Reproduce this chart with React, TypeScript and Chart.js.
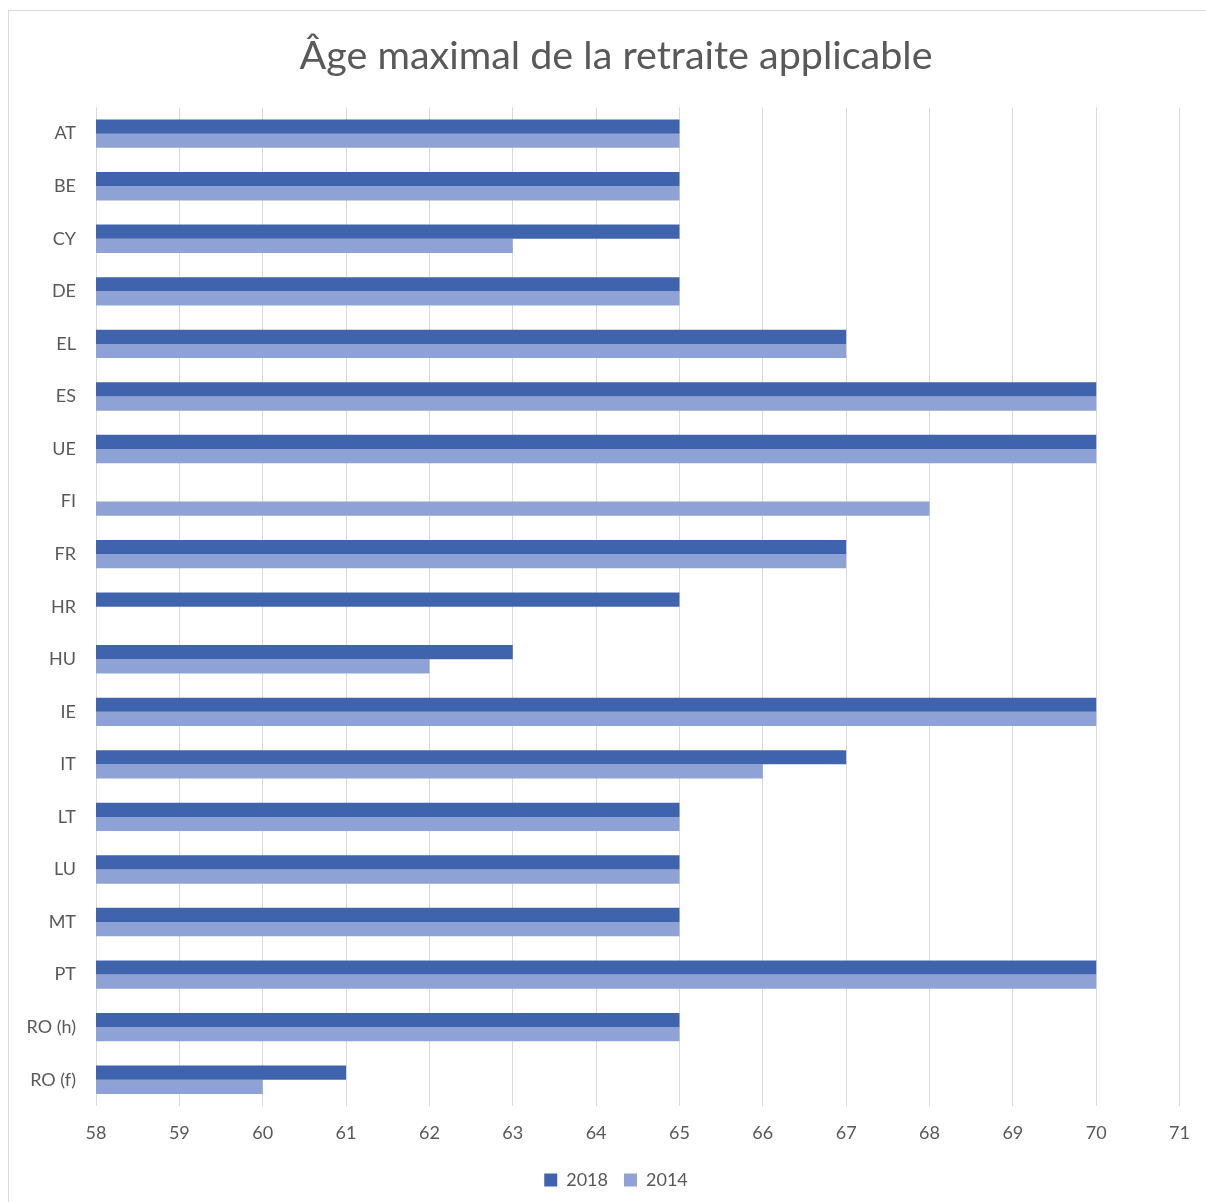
import React, { useEffect, useRef } from "react";
import { Chart, registerables } from "chart.js";

Chart.register(...registerables);

const categories = ["AT", "BE", "CY", "DE", "EL", "ES", "UE", "FI", "FR", "HR", "HU", "IE", "IT", "LT", "LU", "MT", "PT", "RO (h)", "RO (f)"];
const values2018: (number | null)[] = [65, 65, 65, 65, 67, 70, 70, null, 67, 65, 63, 70, 67, 65, 65, 65, 70, 65, 61];
const values2014: (number | null)[] = [65, 65, 63, 65, 67, 70, 70, 68, 67, null, 62, 70, 66, 65, 65, 65, 70, 65, 60];
const xTicks = [58, 59, 60, 61, 62, 63, 64, 65, 66, 67, 68, 69, 70, 71];
const seriesLabels = ["2018", "2014"];
const titleText = "Âge maximal de la retraite applicable";

const DARK = "#3F64AD";
const LIGHT = "#8FA2D5";
const TEXT = "#595959";
const GRID = "#D9D9D9";
const FONT = "Lato";

export default function App() {
  const ref = useRef<HTMLCanvasElement | null>(null);
  useEffect(() => {
    if (!ref.current) return;
    const chart = new Chart(ref.current, {
      type: "bar",
      data: {
        labels: categories,
        datasets: [
          { label: seriesLabels[0], data: values2018, backgroundColor: DARK, borderWidth: 0, categoryPercentage: 0.54, barPercentage: 1, yAxisID: "y" },
          { label: seriesLabels[1], data: values2014, backgroundColor: LIGHT, borderWidth: 0, categoryPercentage: 0.54, barPercentage: 1, yAxisID: "y" },
        ],
      },
      options: {
        indexAxis: "y",
        animation: false,
        responsive: false,
        maintainAspectRatio: false,
        layout: { padding: { left: 26, right: 0, top: 0, bottom: 3 } },
        plugins: {
          title: {
            display: true,
            text: titleText,
            color: TEXT,
            font: { family: FONT, size: 39.5, weight: "normal" },
            padding: { top: 33, bottom: 27 },
          },
          legend: {
            display: true,
            position: "bottom",
            labels: {
              color: TEXT,
              font: { family: FONT, size: 18 },
              boxWidth: 13,
              boxHeight: 13,
              padding: 16,
            },
          },
          tooltip: { enabled: false },
        },
        scales: {
          x: {
            type: "linear",
            min: 58,
            max: 71,
            afterBuildTicks: (scale: any) => {
              scale.ticks = xTicks.map((v) => ({ value: v }));
            },
            afterFit: (scale: any) => {
              scale.height = 49;
            },
            grid: { color: GRID, lineWidth: 1, drawTicks: false },
            border: { display: false },
            ticks: { color: TEXT, font: { family: FONT, size: 18 }, padding: 16 },
          },
          y: {
            type: "category",
            afterFit: (scale: any) => {
              scale.width = 70;
            },
            grid: { display: false, drawTicks: false },
            border: { display: false },
            ticks: { color: TEXT, font: { family: FONT, size: 18 }, padding: 20 },
          },
          yRight: {
            type: "category",
            position: "right",
            display: true,
            afterFit: (scale: any) => {
              scale.width = 24;
            },
            grid: { display: false, drawTicks: false },
            border: { display: false },
            ticks: { display: false },
          },
        },
      },
    });
    return () => chart.destroy();
  }, []);
  return (
    <div style={{ position: "absolute", left: 0, top: 0, width: 1206, height: 1202, background: "#fff", overflow: "hidden" }}>
      <div style={{ position: "absolute", left: 8, top: 10, width: 1250, height: 1250, border: "1px solid #D9D9D9" }} />
      <canvas ref={ref} width={1206} height={1202} style={{ position: "absolute", left: 0, top: 0, width: 1206, height: 1202 }} />
    </div>
  );
}
